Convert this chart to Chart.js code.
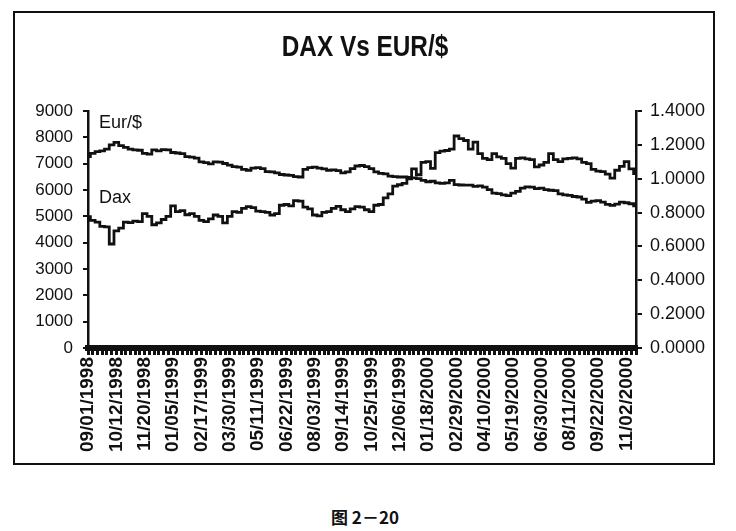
<!DOCTYPE html>
<html>
<head>
<meta charset="utf-8">
<script src="https://cdn.jsdelivr.net/npm/chart.js@4.4.1/dist/chart.umd.min.js"></script>
<style>
  body { margin: 0; background: #fff; width: 736px; height: 531px; position: relative; overflow: hidden; }
  #frame { position: absolute; left: 13px; top: 11px; width: 698px; height: 450px; border: 2px solid #111; }
  #title { position: absolute; left: 0; top: 30px; width: 730px; text-align: center; color: #111;
    font: bold 29px "Liberation Sans", Arial, sans-serif; transform: scaleX(0.84); transform-origin: 365px 0; }
  #caption { position: absolute; left: 0; width: 730px; top: 504px; text-align: center;
    font: bold 17px "Noto Sans CJK SC", sans-serif; color: #111; }
</style>
</head>
<body>
<div id="frame"><canvas id="daxChart"></canvas></div>
<div id="title">DAX Vs EUR/$</div>
<div id="caption">图 2－20</div>
<script>
// ── Data (weekly readings, 09/01/1998 → mid 11/2000) ─────────
const tickLabels = [
  '09/01/1998', '10/12/1998', '11/20/1998', '01/05/1999', '02/17/1999',
  '03/30/1999', '05/11/1999', '06/22/1999', '08/03/1999', '09/14/1999',
  '10/25/1999', '12/06/1999', '01/18/2000', '02/29/2000', '04/10/2000',
  '05/19/2000', '06/30/2000', '08/11/2000', '09/22/2000', '11/02/2000',
];

const dax = [
  4990, 4850, 4780, 4620, 4600, 3950, 4450, 4550, 4780, 4760,
  4820, 4800, 5100, 5000, 4680, 4750, 4880, 5000, 5400, 5180,
  5220, 5060, 5100, 5000, 4850, 4800, 4900, 5050, 5000, 4750,
  5000, 5180, 5150, 5300, 5370, 5330, 5200, 5180, 5150, 5050,
  5100, 5420, 5450, 5400, 5600, 5580, 5350, 5280, 5050, 5020,
  5150, 5180, 5300, 5380, 5250, 5180, 5280, 5370, 5350, 5250,
  5180, 5420, 5450, 5700, 5850, 6150, 6200, 6250, 6420, 6800,
  6580, 7050, 7080, 6820, 7420, 7480, 7500, 7550, 8050, 7950,
  7880, 7550, 7820, 7380, 7200, 7150, 7380, 7260, 7200, 7000,
  6830, 7200, 7220, 7180, 7150, 6880, 6950, 7050, 7380, 7150,
  7080, 7180, 7200, 7220, 7180, 7050, 7000, 6780, 6720, 6700,
  6600, 6450, 6750, 6900, 7080, 6800, 6620,
];

const eurUsd = [
  1.130, 1.150, 1.160, 1.165, 1.175, 1.200, 1.215, 1.195, 1.185, 1.175,
  1.170, 1.168, 1.150, 1.145, 1.170, 1.165, 1.172, 1.170, 1.155, 1.152,
  1.148, 1.130, 1.128, 1.122, 1.100, 1.095, 1.088, 1.100, 1.098, 1.090,
  1.080, 1.071, 1.068, 1.055, 1.050, 1.062, 1.066, 1.060, 1.042, 1.040,
  1.035, 1.025, 1.022, 1.020, 1.012, 1.010, 1.055, 1.065, 1.068, 1.062,
  1.058, 1.050, 1.052, 1.048, 1.035, 1.040, 1.060, 1.075, 1.078, 1.072,
  1.060, 1.040, 1.032, 1.028, 1.015, 1.012, 1.010, 1.010, 1.008, 1.005,
  1.000, 0.990, 0.982, 0.985, 0.975, 0.972, 0.975, 0.990, 0.965, 0.963,
  0.962, 0.962, 0.955, 0.958, 0.950, 0.935, 0.915, 0.912, 0.905, 0.900,
  0.915, 0.925, 0.945, 0.952, 0.950, 0.942, 0.945, 0.935, 0.932, 0.930,
  0.910, 0.905, 0.902, 0.895, 0.892, 0.880, 0.860, 0.868, 0.870, 0.862,
  0.848, 0.842, 0.850, 0.862, 0.858, 0.852, 0.840,
];

const LABEL_EVERY = 6;
const categories = dax.map((_, i) => (i % LABEL_EVERY === 0 ? tickLabels[i / LABEL_EVERY] || '' : ''));

const INK = '#111';
const SANS = 'Arial, "Liberation Sans", sans-serif';

// ── In-plot series names ─────────────────────────────────────
const seriesTags = {
  id: 'seriesTags',
  afterDatasetsDraw(chart) {
    const { ctx, scales } = chart;
    ctx.save();
    ctx.fillStyle = INK;
    ctx.font = '18px ' + SANS;
    ctx.textBaseline = 'middle';
    ctx.textAlign = 'left';
    const x = scales.x.getPixelForValue(0) + 11;
    ctx.fillText('Eur/$', x, scales.y.getPixelForValue(8550));
    ctx.fillText('Dax', x, scales.y.getPixelForValue(5700));
    ctx.restore();
  },
};

// ── Chart ────────────────────────────────────────────────────
new Chart(document.getElementById('daxChart'), {
  type: 'line',
  data: {
    labels: categories,
    datasets: [
      {
        label: 'Eur/$',
        data: eurUsd,
        yAxisID: 'y2',
        borderColor: INK,
        borderWidth: 2.8,
        pointRadius: 0,
        stepped: 'middle',
      },
      {
        label: 'Dax',
        data: dax,
        yAxisID: 'y',
        borderColor: INK,
        borderWidth: 2.8,
        pointRadius: 0,
        stepped: 'middle',
      },
    ],
  },
  options: {
    responsive: true,
    maintainAspectRatio: false,
    animation: false,
    layout: { padding: { top: 98, left: 0, right: 0, bottom: 0 } },
    plugins: {
      legend: { display: false },
      tooltip: { enabled: false },
      title: { display: false },
    },
    scales: {
      x: {
        offset: false,
        grid: { drawOnChartArea: false, drawTicks: true, tickLength: 7, color: INK, lineWidth: 3 },
        border: { color: INK, width: 6 },
        ticks: {
          autoSkip: false,
          maxRotation: 90,
          minRotation: 90,
          padding: 2,
          color: INK,
          font: { family: SANS, size: 19, weight: 'bold' },
        },
        afterFit(scale) { scale.height = 115; },
      },
      y: {
        position: 'left',
        min: 0,
        max: 9000,
        ticks: {
          stepSize: 1000,
          color: INK,
          padding: 10,
          font: { family: SANS, size: 17 },
          callback: (v) => String(v),
        },
        grid: { drawOnChartArea: false, tickLength: 5, color: INK, lineWidth: 2 },
        border: { color: INK, width: 2.5 },
        afterFit(scale) { scale.width = 73; },
      },
      y2: {
        position: 'right',
        min: 0,
        max: 1.4,
        ticks: {
          stepSize: 0.2,
          color: INK,
          padding: 8,
          font: { family: SANS, size: 18 },
          callback: (v) => Number(v).toFixed(4),
        },
        grid: { drawOnChartArea: false, tickLength: 6, color: INK, lineWidth: 2 },
        border: { color: INK, width: 2.5 },
        afterFit(scale) { scale.width = 77; },
      },
    },
  },
  plugins: [seriesTags],
});
</script>
</body>
</html>
